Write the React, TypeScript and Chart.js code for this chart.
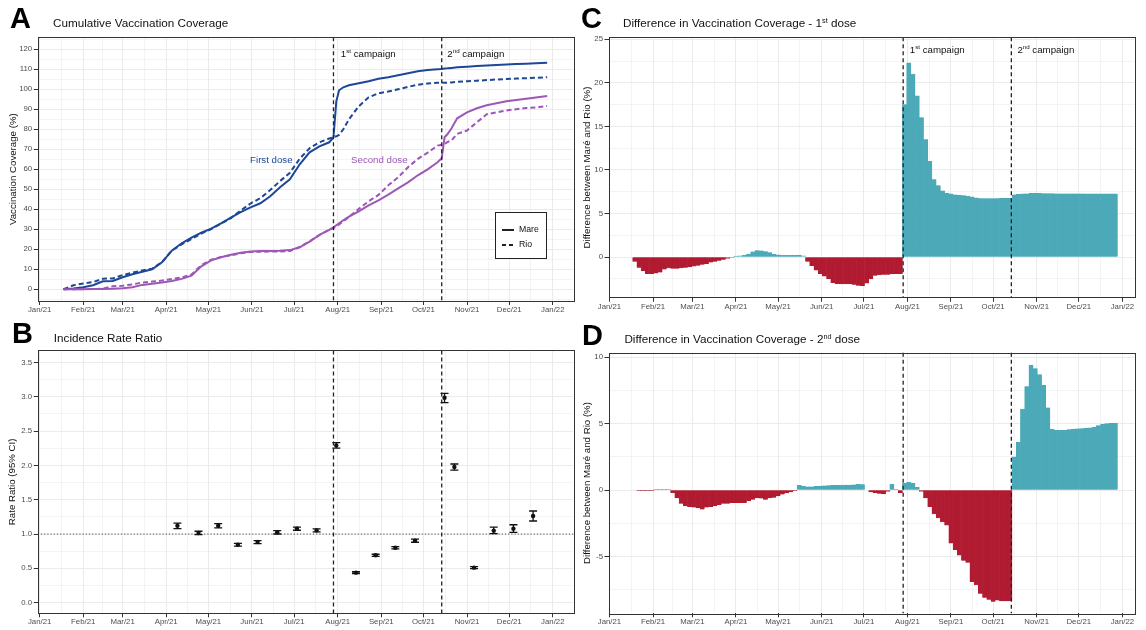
import React, { useEffect, useRef } from "react";
import { Chart, registerables } from "chart.js";

Chart.register(...registerables);

const FONT = '"Liberation Sans", Arial, Helvetica, sans-serif';
Chart.defaults.font.family = FONT;

const TEAL = "#4BA9B8";
const RED = "#B11B31";
const BLUE = "#1E4797";
const PURPLE = "#9D57B7";
const TICK_COLOR = "#4D4D4D";

// ---------- shared categories ----------
const monthStartDays = [0, 31, 59, 90, 120, 151, 181, 212, 243, 273, 304, 334, 365];
const monthLabels = ["Jan/21", "Feb/21", "Mar/21", "Apr/21", "May/21", "Jun/21", "Jul/21", "Aug/21", "Sep/21", "Oct/21", "Nov/21", "Dec/21", "Jan/22"];
const campaignDays = [209, 286];

// ---------- panel A: cumulative coverage ----------
const coverageTicks = [0, 10, 20, 30, 40, 50, 60, 70, 80, 90, 100, 110, 120];
const coverageTickLabels = ["0", "10", "20", "30", "40", "50", "60", "70", "80", "90", "100", "110", "120"];
const coverageMinor = [-5, 5, 15, 25, 35, 45, 55, 65, 75, 85, 95, 105, 115, 125];

const daysA = [17, 24, 31, 38, 45, 52, 59, 66, 73, 80, 87, 94, 101, 108, 115, 122, 129, 136, 143, 150, 157, 164, 171, 178, 185, 192, 199, 206, 209, 211, 213, 216, 220, 227, 234, 241, 248, 255, 262, 269, 276, 283, 286, 288, 290, 293, 297, 304, 311, 318, 325, 332, 339, 346, 353, 361];
const mareFirst = [0, 0.4, 1.0, 2.0, 4.0, 4.2, 6.0, 7.5, 8.8, 10.0, 13.5, 19.3, 23.0, 25.8, 28.3, 30.3, 33.0, 35.8, 38.6, 41.0, 43.0, 46.5, 51.0, 55.0, 62.5, 68.5, 71.5, 73.5, 76.0, 94.0, 99.5, 101.0, 102.0, 103.0, 104.0, 105.3, 106.0, 107.0, 108.0, 109.0, 109.6, 110.0, 110.2, 110.4, 110.5, 110.7, 111.0, 111.3, 111.6, 111.9, 112.2, 112.4, 112.6, 112.8, 113.0, 113.3];
const rioFirst = [0, 2.0, 2.9, 3.6, 5.3, 5.45, 7.1, 8.35, 9.4, 10.3, 13.55, 19.35, 22.5, 25.1, 27.9, 30.1, 32.8, 35.6, 39.4, 42.9, 45.6, 49.6, 54.1, 58.3, 65.3, 70.55, 73.5, 75.4, 76.0, 76.5, 77.2, 80.0, 85.0, 91.5, 96.0, 98.0, 98.9, 100.0, 101.2, 102.3, 102.9, 103.25, 103.4, 103.3, 103.3, 103.45, 103.73, 104.0, 104.3, 104.6, 104.9, 105.1, 105.35, 105.55, 105.75, 106.05];
const mareSecond = [0, 0, 0.05, 0.1, 0.2, 0.3, 0.5, 1.0, 2.2, 2.8, 3.4, 4.2, 5.2, 6.8, 11.5, 14.5, 16.0, 17.3, 18.3, 18.9, 19.1, 19.2, 19.3, 19.6, 21.0, 23.8, 27.2, 29.7, 31.0, 32.0, 33.0, 34.5, 36.3, 39.0, 42.0, 44.5, 47.3, 50.5, 53.5, 57.0, 60.0, 63.5, 65.5, 76.0, 77.5, 80.5, 85.5, 88.5, 90.5, 92.0, 93.0, 94.0, 94.7, 95.3, 95.9, 96.7];
const rioSecond = [0, 0.05, 0.1, 0.1, 0.4, 1.5, 1.8, 2.45, 3.4, 3.85, 4.35, 5.15, 5.9, 7.4, 12.1, 14.8, 16.15, 17.0, 18.05, 18.6, 18.8, 18.85, 18.9, 19.15, 21.15, 24.05, 27.1, 29.9, 30.5, 31.5, 32.4, 34.0, 36.2, 40.2, 44.0, 47.2, 52.0, 56.0, 61.0, 65.2, 68.3, 71.85, 72.3, 72.6, 73.6, 74.5, 77.7, 79.4, 83.5, 87.5, 88.45, 89.4, 90.05, 90.6, 90.9, 91.65];

// ---------- panel B: incidence rate ratio ----------
const ratioTicks = [0, 0.5, 1, 1.5, 2, 2.5, 3, 3.5];
const ratioTickLabels = ["0.0", "0.5", "1.0", "1.5", "2.0", "2.5", "3.0", "3.5"];
const ratioMinor = [0.25, 0.75, 1.25, 1.75, 2.25, 2.75, 3.25];
const irrDays = [98, 113, 127, 141, 155, 169, 183, 197, 211, 225, 239, 253, 267, 288, 295, 309, 323, 337, 351];
const irrEstimate = [1.12, 1.015, 1.12, 0.845, 0.883, 1.024, 1.078, 1.053, 2.29, 0.437, 0.69, 0.8, 0.903, 2.985, 1.976, 0.51, 1.049, 1.078, 1.262];
const irrLower = [1.08, 0.99, 1.09, 0.825, 0.86, 1.0, 1.055, 1.03, 2.25, 0.425, 0.675, 0.785, 0.88, 2.915, 1.93, 0.495, 1.005, 1.025, 1.19];
const irrUpper = [1.16, 1.04, 1.15, 0.865, 0.905, 1.05, 1.1, 1.075, 2.33, 0.45, 0.705, 0.815, 0.925, 3.05, 2.02, 0.525, 1.1, 1.135, 1.335];
const referenceRatio = 1;

// ---------- panels C & D: differences (Maré - Rio) ----------
const diffFirstTicks = [0, 5, 10, 15, 20, 25];
const diffFirstTickLabels = ["0", "5", "10", "15", "20", "25"];
const diffFirstMinor = [-2.5, 2.5, 7.5, 12.5, 17.5, 22.5];
const diffSecondTicks = [-5, 0, 5, 10];
const diffSecondTickLabels = ["-5", "0", "5", "10"];
const diffSecondMinor = [-7.5, -2.5, 2.5, 7.5];

const diffDays = [18, 21, 24, 27, 30, 33, 36, 39, 42, 45, 48, 51, 54, 57, 60, 63, 66, 69, 72, 75, 78, 81, 84, 87, 90, 93, 96, 99, 102, 105, 108, 111, 114, 117, 120, 123, 126, 129, 132, 135, 138, 141, 144, 147, 150, 153, 156, 159, 162, 165, 168, 171, 174, 177, 180, 183, 186, 189, 192, 195, 198, 201, 204, 207, 210, 213, 216, 219, 222, 225, 228, 231, 234, 237, 240, 243, 246, 249, 252, 255, 258, 261, 264, 267, 270, 273, 276, 279, 282, 285, 288, 291, 294, 297, 300, 303, 306, 309, 312, 315, 318, 321, 324, 327, 330, 333, 336, 339, 342, 345, 348, 351, 354, 357, 360];
const diffFirst = [
  -0.5, -1.2, -1.6, -1.9, -1.9, -1.85, -1.75, -1.4, -1.25, -1.3,
  -1.3, -1.25, -1.2, -1.15, -1.05, -0.95, -0.85, -0.75, -0.6, -0.5,
  -0.4, -0.28, -0.15, -0.05, 0.1, 0.15, 0.2, 0.35, 0.6, 0.75,
  0.72, 0.62, 0.5, 0.32, 0.25, 0.2, 0.2, 0.2, 0.2, 0.22,
  0.15, -0.5, -1.0, -1.5, -1.9, -2.2, -2.5, -2.95, -3.05, -3.1,
  -3.1, -3.1, -3.15, -3.25, -3.3, -3.0, -2.5, -2.1, -2.05, -2.0,
  -2.0, -1.95, -1.9, -1.9, 17.5, 22.3, 21.0, 18.5, 16.0, 13.5,
  11.0, 8.9, 8.2, 7.6, 7.35, 7.25, 7.15, 7.1, 7.05, 7.0,
  6.9, 6.8, 6.72, 6.7, 6.7, 6.7, 6.72, 6.75, 6.75, 6.75,
  7.15, 7.2, 7.25, 7.27, 7.3, 7.3, 7.3, 7.28, 7.28, 7.28,
  7.27, 7.27, 7.27, 7.27, 7.26, 7.26, 7.26, 7.25, 7.25, 7.25,
  7.25, 7.25, 7.25, 7.25, 7.25,
];
const diffSecond = [
  0, -0.05, -0.05, -0.05, -0.05, 0.02, 0.02, 0.02, 0.02, -0.2,
  -0.6, -1.0, -1.2, -1.25, -1.3, -1.35, -1.45, -1.3, -1.25, -1.2,
  -1.1, -1.0, -1.0, -0.95, -0.95, -0.95, -0.95, -0.8, -0.7, -0.6,
  -0.62, -0.7, -0.6, -0.55, -0.45, -0.32, -0.22, -0.15, -0.05, 0.35,
  0.3, 0.25, 0.25, 0.28, 0.3, 0.32, 0.33, 0.35, 0.35, 0.37,
  0.38, 0.38, 0.4, 0.45, 0.42, 0, -0.15, -0.2, -0.25, -0.3,
  -0.1, 0.45, 0.05, -0.2, 0.5, 0.6, 0.5, 0.2, -0.1, -0.6,
  -1.25, -1.8, -2.1, -2.4, -2.65, -4.0, -4.5, -4.9, -5.3, -5.45,
  -6.9, -7.15, -7.8, -8.1, -8.25, -8.4, -8.3, -8.35, -8.35, -8.35,
  2.5, 3.6, 6.1, 7.8, 9.4, 9.15, 8.7, 7.9, 6.2, 4.6,
  4.5, 4.5, 4.5, 4.55, 4.6, 4.62, 4.63, 4.65, 4.68, 4.72,
  4.85, 4.95, 5.0, 5.02, 5.05,
];

// ---------- helpers ----------
function gridOptions(isMajor: (v: number) => boolean) {
  return {
    offset: false,
    drawTicks: true,
    tickLength: 4,
    color: "#EBEBEB",
    lineWidth: (c: any) => (c.tick && isMajor(c.tick.value) ? 1 : 0.55),
    tickColor: (c: any) => (c.tick && isMajor(c.tick.value) ? "#333333" : "rgba(0,0,0,0)"),
    tickWidth: 1,
  };
}

function dateAxis(min: number, max: number, height: number) {
  const minors = monthStartDays.slice(0, -1).map((d, i) => (d + monthStartDays[i + 1]) / 2);
  const all = [...monthStartDays, ...minors].filter((v) => v >= min && v <= max).sort((a, b) => a - b);
  return {
    type: "linear",
    min,
    max,
    offset: false,
    afterBuildTicks: (s: any) => {
      s.ticks = all.map((v) => ({ value: v }));
    },
    afterFit: (s: any) => {
      s.height = height;
    },
    ticks: {
      autoSkip: false,
      maxRotation: 0,
      minRotation: 0,
      padding: 0,
      color: TICK_COLOR,
      font: { family: FONT, size: 7.8 },
      callback: (v: number) => {
        const i = monthStartDays.indexOf(v);
        return i >= 0 ? monthLabels[i] : "";
      },
    },
    grid: gridOptions((v) => monthStartDays.includes(v)),
    border: { display: false },
  };
}

function valueAxis(min: number, max: number, majors: number[], labels: string[], minors: number[], width: number, title: string, titlePad: number) {
  const all = [...majors, ...minors].filter((v) => v >= min && v <= max).sort((a, b) => a - b);
  return {
    type: "linear",
    min,
    max,
    afterBuildTicks: (s: any) => {
      s.ticks = all.map((v) => ({ value: v }));
    },
    afterFit: (s: any) => {
      s.width = width;
    },
    ticks: {
      autoSkip: false,
      padding: 1.5,
      color: TICK_COLOR,
      font: { family: FONT, size: 7.8 },
      callback: (v: number) => {
        const i = majors.indexOf(v);
        return i >= 0 ? labels[i] : "";
      },
    },
    grid: gridOptions((v) => majors.includes(v)),
    border: { display: false },
    title: {
      display: true,
      text: title,
      color: "#111",
      font: { family: FONT, size: 9.7 },
      padding: { top: titlePad, bottom: 0 },
    },
  };
}

const borderPlugin = {
  id: "panelBorder",
  afterDraw(chart: any) {
    const { ctx, chartArea: a } = chart;
    ctx.save();
    ctx.strokeStyle = "#333333";
    ctx.lineWidth = 1;
    ctx.strokeRect(Math.round(a.left) + 0.5, Math.round(a.top) + 0.5, Math.round(a.right - a.left), Math.round(a.bottom - a.top));
    ctx.restore();
  },
};

const campaignPlugin = {
  id: "campaignLines",
  afterDatasetsDraw(chart: any) {
    const { ctx, chartArea: a, scales } = chart;
    ctx.save();
    ctx.strokeStyle = "#222";
    ctx.lineWidth = 1.3;
    ctx.setLineDash([4, 3]);
    for (const d of campaignDays) {
      const x = scales.x.getPixelForValue(d);
      ctx.beginPath();
      ctx.moveTo(x, a.top);
      ctx.lineTo(x, a.bottom);
      ctx.stroke();
    }
    ctx.restore();
  },
};

function drawSupText(ctx: any, x: number, y: number, main: string, sup: string, rest: string, size: number) {
  ctx.textAlign = "left";
  ctx.textBaseline = "alphabetic";
  ctx.font = `${size}px ${FONT}`;
  ctx.fillText(main, x, y);
  let w = ctx.measureText(main).width;
  ctx.font = `${size * 0.64}px ${FONT}`;
  ctx.fillText(sup, x + w, y - size * 0.42);
  w += ctx.measureText(sup).width;
  ctx.font = `${size}px ${FONT}`;
  ctx.fillText(rest, x + w, y);
}

function campaignLabelPlugin(labelDays: number[], labelValue: number) {
  return {
    id: "campaignLabels",
    afterDatasetsDraw(chart: any) {
      const { ctx, scales } = chart;
      ctx.save();
      ctx.fillStyle = "#111";
      const y = scales.y.getPixelForValue(labelValue);
      drawSupText(ctx, scales.x.getPixelForValue(labelDays[0]), y, "1", "st", " campaign", 9.7);
      drawSupText(ctx, scales.x.getPixelForValue(labelDays[1]), y, "2", "nd", " campaign", 9.7);
      ctx.restore();
    },
  };
}

const doseLabelsA = [
  { text: "First dose", day: 164.8, value: 63.3, color: BLUE },
  { text: "Second dose", day: 241.6, value: 63.3, color: PURPLE },
];

const annotationsA = {
  id: "annotationsA",
  afterDatasetsDraw(chart: any) {
    const { ctx, scales, chartArea: a } = chart;
    ctx.save();
    ctx.font = `9.7px ${FONT}`;
    ctx.textAlign = "center";
    ctx.textBaseline = "alphabetic";
    for (const l of doseLabelsA) {
      ctx.fillStyle = l.color;
      ctx.fillText(l.text, scales.x.getPixelForValue(l.day), scales.y.getPixelForValue(l.value));
    }
    // legend box
    const bx = a.right - 78.8;
    const by = a.bottom - 89;
    ctx.fillStyle = "#fff";
    ctx.fillRect(bx, by, 51, 46);
    ctx.strokeStyle = "#222";
    ctx.lineWidth = 1;
    ctx.strokeRect(Math.round(bx) + 0.5, Math.round(by) + 0.5, 51, 46);
    ctx.lineWidth = 2;
    ctx.beginPath();
    ctx.moveTo(bx + 7.5, by + 18);
    ctx.lineTo(bx + 19.5, by + 18);
    ctx.stroke();
    ctx.setLineDash([4, 3]);
    ctx.beginPath();
    ctx.moveTo(bx + 7.5, by + 33);
    ctx.lineTo(bx + 19.5, by + 33);
    ctx.stroke();
    ctx.setLineDash([]);
    ctx.fillStyle = "#111";
    ctx.font = `8.7px ${FONT}`;
    ctx.textAlign = "left";
    ctx.textBaseline = "middle";
    ctx.fillText("Mare", bx + 24.5, by + 18);
    ctx.fillText("Rio", bx + 24.5, by + 33);
    ctx.restore();
  },
};

const errorBarPlugin = {
  id: "errorBars",
  beforeDatasetsDraw(chart: any) {
    const { ctx, scales, chartArea: a } = chart;
    ctx.save();
    ctx.strokeStyle = "#444";
    ctx.lineWidth = 1;
    ctx.setLineDash([1.2, 2]);
    const y = scales.y.getPixelForValue(referenceRatio);
    ctx.beginPath();
    ctx.moveTo(a.left, y);
    ctx.lineTo(a.right, y);
    ctx.stroke();
    ctx.restore();
  },
  afterDatasetsDraw(chart: any) {
    const { ctx, scales } = chart;
    ctx.save();
    ctx.strokeStyle = "#111";
    ctx.lineWidth = 1.3;
    for (let i = 0; i < irrDays.length; i++) {
      const x = scales.x.getPixelForValue(irrDays[i]);
      const lo = scales.y.getPixelForValue(irrLower[i]);
      const hi = scales.y.getPixelForValue(irrUpper[i]);
      ctx.beginPath();
      ctx.moveTo(x, lo);
      ctx.lineTo(x, hi);
      ctx.moveTo(x - 4, lo);
      ctx.lineTo(x + 4, lo);
      ctx.moveTo(x - 4, hi);
      ctx.lineTo(x + 4, hi);
      ctx.stroke();
    }
    ctx.restore();
  },
};

const baseOptions = (padding: any) => ({
  responsive: false,
  animation: false,
  layout: { padding },
  plugins: { legend: { display: false }, tooltip: { enabled: false }, title: { display: false } },
});

function configA(): any {
  const pts = (vals: number[]) => daysA.map((d, i) => ({ x: d, y: vals[i] }));
  return {
    type: "line",
    data: {
      datasets: [
        { data: pts(rioSecond), borderColor: PURPLE, borderWidth: 2, borderDash: [5, 3], pointRadius: 0, tension: 0 },
        { data: pts(rioFirst), borderColor: BLUE, borderWidth: 2, borderDash: [5, 3], pointRadius: 0, tension: 0 },
        { data: pts(mareSecond), borderColor: PURPLE, borderWidth: 2, pointRadius: 0, tension: 0 },
        { data: pts(mareFirst), borderColor: BLUE, borderWidth: 2, pointRadius: 0, tension: 0 },
      ],
    },
    options: {
      ...baseOptions({ top: 7.3, right: 16.7, bottom: 0, left: 0 }),
      scales: {
        x: dateAxis(-1.4, 379.6, 24),
        y: valueAxis(-5.85, 126, coverageTicks, coverageTickLabels, coverageMinor, 37.7, "Vaccination Coverage (%)", 7.2),
      },
    },
    plugins: [campaignPlugin, campaignLabelPlugin([214.2, 290], 116.3), annotationsA, borderPlugin],
  };
}

function configB(): any {
  return {
    type: "scatter",
    data: {
      datasets: [
        {
          data: irrDays.map((d, i) => ({ x: d, y: irrEstimate[i] })),
          backgroundColor: "#111",
          borderColor: "#111",
          pointRadius: 2.2,
          borderWidth: 0,
        },
      ],
    },
    options: {
      ...baseOptions({ top: 25.4, right: 16.7, bottom: 0, left: 0 }),
      scales: {
        x: dateAxis(-1.4, 379.6, 16.7),
        y: valueAxis(-0.155, 3.675, ratioTicks, ratioTickLabels, ratioMinor, 37.7, "Rate Ratio (95% CI)", 6.4),
      },
    },
    plugins: [errorBarPlugin, campaignPlugin, borderPlugin],
  };
}

function configDiff(values: number[], min: number, max: number, majors: number[], labels: string[], minors: number[], padTop: number, axisHeight: number, withLabels: boolean): any {
  const plugins: any[] = [campaignPlugin];
  if (withLabels) plugins.push(campaignLabelPlugin([213.7, 290.3], 23.46));
  plugins.push(borderPlugin);
  return {
    type: "bar",
    data: {
      datasets: [
        {
          data: diffDays.map((d, i) => ({ x: d, y: values[i] })),
          backgroundColor: (c: any) => (c.raw && c.raw.y >= 0 ? TEAL : RED),
          borderColor: (c: any) => (c.raw && c.raw.y >= 0 ? TEAL : RED),
          borderWidth: 0.4,
          borderSkipped: false,
          barPercentage: 1,
          categoryPercentage: 1,
          grouped: false,
        },
      ],
    },
    options: {
      ...baseOptions({ top: padTop, right: 11.7, bottom: 0, left: 0 }),
      scales: {
        x: dateAxis(-0.7, 373.5, axisHeight),
        y: { ...valueAxis(min, max, majors, labels, minors, 33.5, "Difference between Maré and Rio (%)", 6.7), beginAtZero: false },
      },
    },
    plugins,
  };
}

function ChartCanvas({ left, top, width, height, build }: { left: number; top: number; width: number; height: number; build: () => any }) {
  const ref = useRef<HTMLCanvasElement>(null);
  useEffect(() => {
    const chart = new Chart(ref.current as HTMLCanvasElement, build());
    return () => chart.destroy();
  }, []);
  return <canvas ref={ref} width={width} height={height} style={{ position: "absolute", left, top, width, height }} />;
}

const letterStyle = (left: number, top: number): React.CSSProperties => ({
  position: "absolute",
  left,
  top,
  fontFamily: FONT,
  fontWeight: 700,
  fontSize: 29,
  lineHeight: "29px",
  color: "#000",
  whiteSpace: "nowrap",
});
const titleStyle = (left: number, top: number): React.CSSProperties => ({
  position: "absolute",
  left,
  top,
  fontFamily: FONT,
  fontSize: 11.7,
  lineHeight: "11.7px",
  color: "#111",
  whiteSpace: "nowrap",
});
const supStyle: React.CSSProperties = { fontSize: "0.62em", position: "relative", top: "-0.55em" };

export default function App() {
  return (
    <div style={{ position: "absolute", left: 0, top: 0, width: 1146, height: 630, background: "#fff", overflow: "hidden" }}>
      <ChartCanvas left={0} top={30} width={590} height={295} build={configA} />
      <ChartCanvas left={0} top={325} width={590} height={305} build={configB} />
      <ChartCanvas
        left={575}
        top={30}
        width={571}
        height={290}
        build={() => configDiff(diffFirst, -4.67, 25.23, diffFirstTicks, diffFirstTickLabels, diffFirstMinor, 7.3, 22.3, true)}
      />
      <ChartCanvas
        left={575}
        top={325}
        width={571}
        height={305}
        build={() => configDiff(diffSecond, -9.29, 10.35, diffSecondTicks, diffSecondTickLabels, diffSecondMinor, 27.7, 16.7, false)}
      />

      <div style={letterStyle(10, 4.2)}>A</div>
      <div style={titleStyle(53, 16.8)}>Cumulative Vaccination Coverage</div>
      <div style={letterStyle(12, 318.7)}>B</div>
      <div style={titleStyle(53.8, 332.4)}>Incidence Rate Ratio</div>
      <div style={letterStyle(581, 4.2)}>C</div>
      <div style={titleStyle(623, 16.8)}>
        Difference in Vaccination Coverage - 1<span style={supStyle}>st</span> dose
      </div>
      <div style={letterStyle(582, 320.5)}>D</div>
      <div style={titleStyle(624.4, 333.4)}>
        Difference in Vaccination Coverage - 2<span style={supStyle}>nd</span> dose
      </div>
    </div>
  );
}
